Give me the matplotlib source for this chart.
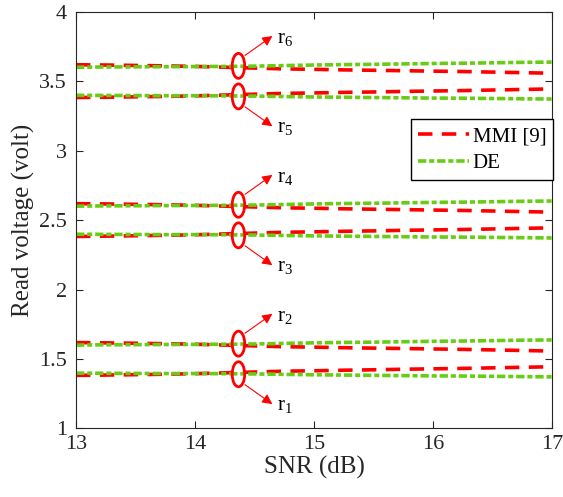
import numpy as np
import matplotlib.pyplot as plt
from matplotlib.patches import Ellipse

plt.rcParams['font.family'] = ['Liberation Serif', 'DejaVu Serif']
plt.rcParams['mathtext.fontset'] = 'custom'
plt.rcParams['mathtext.rm'] = 'Liberation Serif'

# SNR sweep (dB)
snr = [13.0, 13.25, 13.5, 13.75, 14.0, 14.25, 14.5, 14.75, 15.0,
       15.25, 15.5, 15.75, 16.0, 16.25, 16.5, 16.75, 17.0]

# read voltages, MMI [9]
mmi_r6 = [3.618, 3.616, 3.613, 3.610, 3.606, 3.600, 3.594, 3.588, 3.585,
          3.581, 3.578, 3.575, 3.572, 3.569, 3.565, 3.561, 3.557]
mmi_r5 = [3.382, 3.384, 3.387, 3.390, 3.394, 3.400, 3.406, 3.412, 3.415,
          3.419, 3.422, 3.426, 3.429, 3.432, 3.436, 3.440, 3.444]
mmi_r4 = [2.618, 2.616, 2.613, 2.610, 2.606, 2.600, 2.594, 2.588, 2.585,
          2.581, 2.578, 2.575, 2.572, 2.569, 2.565, 2.561, 2.557]
mmi_r3 = [2.382, 2.384, 2.387, 2.390, 2.394, 2.400, 2.406, 2.412, 2.415,
          2.419, 2.422, 2.426, 2.429, 2.432, 2.436, 2.440, 2.444]
mmi_r2 = [1.618, 1.616, 1.613, 1.610, 1.606, 1.600, 1.594, 1.588, 1.585,
          1.581, 1.578, 1.575, 1.572, 1.569, 1.565, 1.561, 1.557]
mmi_r1 = [1.382, 1.384, 1.387, 1.390, 1.394, 1.400, 1.406, 1.412, 1.415,
          1.419, 1.422, 1.426, 1.429, 1.432, 1.436, 1.440, 1.444]

# read voltages, DE
de_r6 = [3.600, 3.602, 3.603, 3.604, 3.605, 3.606, 3.608, 3.612, 3.616,
         3.619, 3.621, 3.624, 3.627, 3.629, 3.632, 3.635, 3.637]
de_r5 = [3.398, 3.397, 3.396, 3.395, 3.395, 3.394, 3.392, 3.389, 3.386,
         3.384, 3.382, 3.380, 3.378, 3.377, 3.375, 3.373, 3.371]
de_r4 = [2.600, 2.602, 2.603, 2.604, 2.605, 2.606, 2.608, 2.612, 2.616,
         2.619, 2.621, 2.624, 2.627, 2.629, 2.632, 2.635, 2.637]
de_r3 = [2.398, 2.397, 2.396, 2.395, 2.395, 2.394, 2.392, 2.389, 2.386,
         2.384, 2.382, 2.380, 2.378, 2.377, 2.375, 2.373, 2.371]
de_r2 = [1.600, 1.602, 1.603, 1.604, 1.605, 1.606, 1.608, 1.612, 1.616,
         1.619, 1.621, 1.624, 1.627, 1.629, 1.632, 1.635, 1.637]
de_r1 = [1.398, 1.397, 1.396, 1.395, 1.395, 1.394, 1.392, 1.389, 1.386,
         1.384, 1.382, 1.380, 1.378, 1.377, 1.375, 1.373, 1.371]

# marked levels and where the ellipses sit
levels = ['r$_\\mathregular{6}$', 'r$_\\mathregular{5}$', 'r$_\\mathregular{4}$',
          'r$_\\mathregular{3}$', 'r$_\\mathregular{2}$', 'r$_\\mathregular{1}$']
level_v = [3.61, 3.39, 2.61, 2.39, 1.61, 1.39]
mark_snr = 14.365

red = '#ff0000'
green = '#66cc14'

fig = plt.figure(figsize=(5.63, 4.97), dpi=100)
ax = fig.add_axes([0.135, 0.138, 0.8455, 0.8385])

mmi = [mmi_r6, mmi_r5, mmi_r4, mmi_r3, mmi_r2, mmi_r1]
de = [de_r6, de_r5, de_r4, de_r3, de_r2, de_r1]
for i, v in enumerate(mmi):
    ax.plot(snr, v, color=red, lw=2.6, dashes=(4.0, 2.6),
            label='MMI [9]' if i == 0 else None)
for i, v in enumerate(de):
    ax.plot(snr, v, color=green, lw=2.6, dashes=(2.3, 0.8, 1.4, 0.8),
            label='DE' if i == 0 else None)

# ellipses and arrows
for name, v, k in zip(levels, level_v, range(6)):
    ax.add_patch(Ellipse((mark_snr, v), 0.105, 0.18, fill=False,
                         edgecolor=red, lw=2.0, zorder=5))
    up = 1 if k % 2 == 0 else -1
    ax.annotate('', xy=(14.65, v + up * 0.215), xytext=(14.42, v + up * 0.075),
                arrowprops=dict(arrowstyle='-|>', color=red, lw=0.8,
                                mutation_scale=15, shrinkA=0, shrinkB=0))
    ax.text(14.69, v + up * 0.19 - (0.0 if up > 0 else 0.04), name,
            fontsize=15, va='center', ha='left')

ax.set_xlim(13, 17)
ax.set_ylim(1, 4)
ax.set_xticks([13, 14, 15, 16, 17])
ax.set_yticks([1, 1.5, 2, 2.5, 3, 3.5, 4])
ax.set_yticklabels(['1', '1.5', '2', '2.5', '3', '3.5', '4'])
ax.tick_params(direction='in', top=True, right=True, length=5, width=0.8,
               labelsize=16, colors='#262626', labelcolor='#262626')
ax.tick_params(axis='x', pad=5)
ax.tick_params(axis='y', pad=6.5)
for s in ax.spines.values():
    s.set_color('#262626')
    s.set_linewidth(0.8)

ax.set_xlabel('SNR (dB)', fontsize=18, color='#262626', labelpad=1)
ax.set_ylabel('Read voltage (volt)', fontsize=18, color='#262626', labelpad=3)

leg = ax.legend(loc='upper left', bbox_to_anchor=(0.704, 0.742), fontsize=15,
                frameon=True, fancybox=False, framealpha=1, edgecolor='black',
                borderpad=0.35, handlelength=2.45, handletextpad=0.15,
                labelspacing=0.35, borderaxespad=0)
leg.get_frame().set_linewidth(1.0)

plt.savefig('out.png', dpi=100)
